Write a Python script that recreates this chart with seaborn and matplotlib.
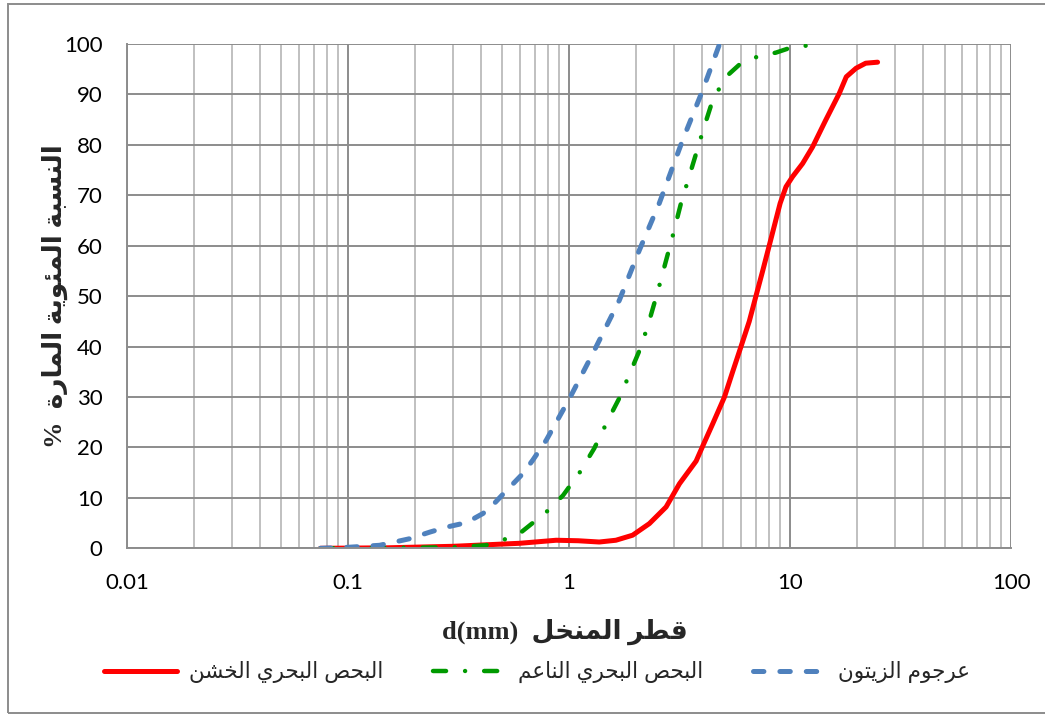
import numpy as np
import pandas as pd
import seaborn as sns
import matplotlib.pyplot as plt
from matplotlib.patches import Rectangle
from matplotlib.ticker import FixedLocator, LogLocator, NullFormatter

# البحص البحري الخشن (coarse sea gravel)
coarse_d = [0.075, 0.15, 0.3, 0.6, 0.875, 1.1, 1.37, 1.63, 1.94, 2.31, 2.75, 3.16, 3.76,
            4.03, 4.47, 5.05, 5.5, 6.0, 6.54, 7.0, 7.52, 8.05, 9.02, 9.59, 10.27, 11.4,
            12.65, 14.5, 16.7, 17.97, 19.9, 22.0, 24.9]
coarse_pass = [0, 0.1, 0.4, 1.0, 1.6, 1.5, 1.25, 1.6, 2.6, 4.9, 8.2, 12.8, 17.3,
               20.3, 24.7, 30.0, 35.0, 40.0, 45.0, 49.9, 55.0, 60.0, 68.4, 71.7, 73.7, 76.3,
               79.6, 84.9, 90.2, 93.5, 95.2, 96.2, 96.4]

# البحص البحري الناعم (fine sea gravel)
fine_d = [0.075, 0.15, 0.3, 0.42, 0.5, 0.6, 0.79, 0.94, 1.12, 1.3, 1.5, 1.69, 1.91, 2.12,
          2.31, 2.52, 2.75, 2.94, 3.21, 3.44, 3.76, 4.07, 4.47, 5.13, 6.0, 7.13, 8.64, 10.6, 12.6]
fine_pass = [0, 0.1, 0.2, 0.6, 1.6, 3.0, 7.2, 10.5, 15.1, 19.8, 25.4, 29.8, 35.3, 40.0,
             45.2, 50.9, 57.1, 61.8, 68.4, 72.7, 78.3, 83.3, 88.9, 93.5, 96.2, 97.5, 98.3, 99.6, 99.7]

# عرجوم الزيتون (olive pomace)
olive_d = [0.075, 0.1, 0.139, 0.19, 0.234, 0.279, 0.344, 0.408, 0.45, 0.502, 0.618, 0.686,
           0.788, 1.005, 1.28, 1.69, 2.08, 2.56, 3.27, 4.03, 4.8]
olive_pass = [0, 0.2, 0.6, 1.9, 3.2, 4.2, 5.1, 6.9, 8.5, 10.7, 14.8, 17.5,
              21.4, 29.7, 38.6, 49.2, 59.1, 68.4, 81.0, 90.9, 100.0]

series_names = ["البحص البحري الخشن", "البحص البحري الناعم", "عرجوم الزيتون"]
x_ticks = [0.01, 0.1, 1, 10, 100]
x_tick_labels = ["0.01", "0.1", "1", "10", "100"]
y_ticks = list(range(0, 101, 10))
x_title = "قطر المنخل"
y_title = "النسبة المئوية المارة"

# matplotlib has no Arabic shaping: map letters to presentation forms and reverse
AR_FORMS = {
    'ء': (0xFE80, 1), 'آ': (0xFE81, 2), 'أ': (0xFE83, 2), 'ؤ': (0xFE85, 2), 'إ': (0xFE87, 2),
    'ئ': (0xFE89, 4), 'ا': (0xFE8D, 2), 'ب': (0xFE8F, 4), 'ة': (0xFE93, 2), 'ت': (0xFE95, 4),
    'ث': (0xFE99, 4), 'ج': (0xFE9D, 4), 'ح': (0xFEA1, 4), 'خ': (0xFEA5, 4), 'د': (0xFEA9, 2),
    'ذ': (0xFEAB, 2), 'ر': (0xFEAD, 2), 'ز': (0xFEAF, 2), 'س': (0xFEB1, 4), 'ش': (0xFEB5, 4),
    'ص': (0xFEB9, 4), 'ض': (0xFEBD, 4), 'ط': (0xFEC1, 4), 'ظ': (0xFEC5, 4), 'ع': (0xFEC9, 4),
    'غ': (0xFECD, 4), 'ف': (0xFED1, 4), 'ق': (0xFED5, 4), 'ك': (0xFED9, 4), 'ل': (0xFEDD, 4),
    'م': (0xFEE1, 4), 'ن': (0xFEE5, 4), 'ه': (0xFEE9, 4), 'و': (0xFEED, 2), 'ى': (0xFEEF, 2),
    'ي': (0xFEF1, 4),
}


def shape_ar(text):
    out = []
    for i, ch in enumerate(text):
        if ch not in AR_FORMS:
            out.append(ch)
            continue
        base, nf = AR_FORMS[ch]
        prev = text[i - 1] if i > 0 else ''
        nxt = text[i + 1] if i < len(text) - 1 else ''
        join_prev = prev in AR_FORMS and AR_FORMS[prev][1] == 4
        join_next = nf == 4 and nxt in AR_FORMS and AR_FORMS[nxt][1] > 1
        if nf == 1:
            off = 0
        elif join_prev and join_next:
            off = 3
        elif join_prev:
            off = 1
        elif join_next:
            off = 2
        else:
            off = 0
        out.append(chr(base + off))
    return ''.join(reversed(out))


sns.set_style("white")
plt.rcParams['lines.scale_dashes'] = False
plt.rcParams['font.family'] = ['Lato', 'DejaVu Sans']

fig = plt.figure(figsize=(10.45, 7.16), dpi=100)
ax = fig.add_axes([0.1215, 0.2342, 0.846, 0.7043])

df_coarse = pd.DataFrame({"d": coarse_d, "p": coarse_pass})
df_fine = pd.DataFrame({"d": fine_d, "p": fine_pass})
df_olive = pd.DataFrame({"d": olive_d, "p": olive_pass})

sns.lineplot(data=df_coarse, x="d", y="p", ax=ax, sort=False, estimator=None,
             color="#FF0000", lw=3.6, solid_capstyle="round", solid_joinstyle="round",
             label=shape_ar(series_names[0]))
sns.lineplot(data=df_fine, x="d", y="p", ax=ax, sort=False, estimator=None,
             color="#009A00", lw=3.2, dash_capstyle="round",
             linestyle=(0, (9.4, 13.7, 0.01, 13.7)),
             label=shape_ar(series_names[1]))
sns.lineplot(data=df_olive, x="d", y="p", ax=ax, sort=False, estimator=None,
             color="#4F81BD", lw=3.6, dash_capstyle="round",
             linestyle=(0, (7.5, 11.5)),
             label=shape_ar(series_names[2]))

ax.set_xscale("log")
ax.set_xlim(0.01, 100)
ax.set_ylim(0, 100)
ax.xaxis.set_major_locator(FixedLocator(x_ticks))
ax.set_xticklabels(x_tick_labels)
ax.xaxis.set_minor_locator(LogLocator(base=10, subs=np.arange(2, 10)))
ax.xaxis.set_minor_formatter(NullFormatter())
ax.set_yticks(y_ticks)
ax.set_xlabel("")
ax.set_ylabel("")

ax.grid(which="major", color="#8C8C8C", lw=1.4)
ax.grid(which="minor", axis="x", color="#C0C0C0", lw=1.4)
ax.set_axisbelow(True)
for s in ["top", "right"]:
    ax.spines[s].set_visible(False)
for s in ["bottom", "left"]:
    ax.spines[s].set_color("#8C8C8C")
    ax.spines[s].set_linewidth(1.4)

ax.tick_params(axis="x", which="major", length=5, width=1.4, color="#8C8C8C",
               pad=13, labelsize=16, labelcolor="black")
ax.tick_params(axis="x", which="minor", length=0)
ax.tick_params(axis="y", which="major", length=6.5, width=1.4, color="#8C8C8C",
               pad=11, labelsize=16, labelcolor="black")

fig.text(565 / 1045, 1 - 632 / 716, "d(mm)  " + shape_ar(x_title),
         ha="center", va="center", fontsize=19, fontweight="bold",
         family=["Liberation Serif", "DejaVu Sans"])
fig.text(55 / 1045, 1 - 296 / 716, "%  " + shape_ar(y_title),
         ha="center", va="center", rotation=90, fontsize=19, fontweight="bold",
         family=["Liberation Serif", "DejaVu Sans"])

ax.legend(loc="center", bbox_to_anchor=(0.514, 0.061), bbox_transform=fig.transFigure,
          ncol=3, frameon=False, handlelength=3.4, columnspacing=2.3, handletextpad=0.56,
          prop={"family": ["Liberation Sans", "DejaVu Sans"], "size": 15.5})

# outer chart border
fig.patches.append(Rectangle((8 / 1045, 3.5 / 716), 1.05, 709 / 716, transform=fig.transFigure,
                             fill=False, edgecolor="#8C8C8C", lw=1.4))

fig.savefig("out.png", dpi=100)
